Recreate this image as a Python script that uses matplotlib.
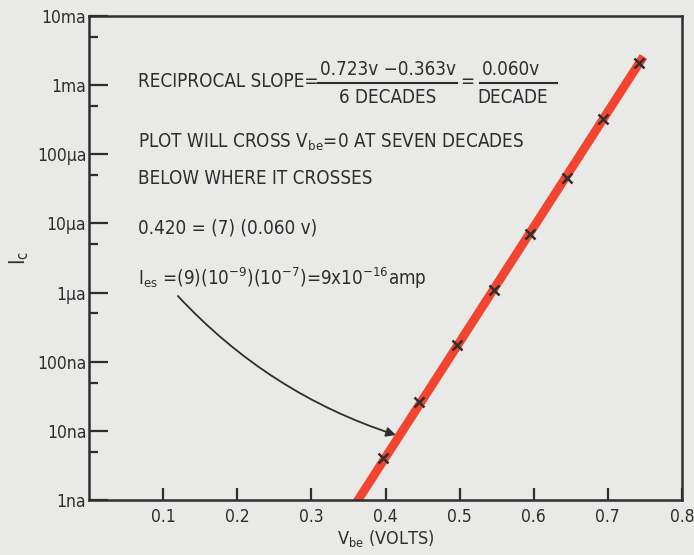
import numpy as np
import matplotlib
matplotlib.use("Agg")
from matplotlib import pyplot as plt

# measured points (V_be in volts, I_c in amps)
vbe_points = [0.397, 0.445, 0.497, 0.547, 0.595, 0.645, 0.694, 0.742]
ic_points = [4.1e-9, 2.6e-8, 1.75e-7, 1.1e-6, 7.1e-6, 4.6e-5, 3.2e-4, 2.1e-3]

# straight-line fit drawn through the points
fit_vbe = [0.359, 0.748]
fit_ic = [8.6e-10, 2.6e-3]

x_ticks = [0.1, 0.2, 0.3, 0.4, 0.5, 0.6, 0.7, 0.8]
x_labels = ["0.1", "0.2", "0.3", "0.4", "0.5", "0.6", "0.7", "0.8"]
y_ticks = [1e-9, 1e-8, 1e-7, 1e-6, 1e-5, 1e-4, 1e-3, 1e-2]
y_labels = ["1na", "10na", "100na", "1\u03bca", "10\u03bca", "100\u03bca", "1ma", "10ma"]
y_minor = [5e-9, 5e-8, 5e-7, 5e-6, 5e-5, 5e-4, 5e-3]

plt.rcParams['font.family'] = ['DejaVu Sans']
plt.rcParams['font.stretch'] = 'condensed'
ink = "#2e2e2e"
bg = "#e9e9e7"

fig = plt.figure(figsize=(6.94, 5.55), dpi=100, facecolor=bg)
ax = fig.add_axes([89 / 694, 55 / 555, 593 / 694, 484 / 555])
ax.set_facecolor(bg)

ax.plot(fit_vbe, fit_ic, color="#f2442e", lw=6.3, solid_capstyle="butt", zorder=2)
ax.plot(vbe_points, ic_points, "x", color=ink, ms=7, mew=1.8, zorder=3)

ax.set_yscale("log")
ax.set_xlim(0, 0.8)
ax.set_ylim(1e-9, 1e-2)
ax.set_xticks(x_ticks, x_labels)
ax.set_yticks(y_ticks, y_labels)
ax.set_yticks(y_minor, minor=True)
ax.yaxis.set_minor_formatter(matplotlib.ticker.NullFormatter())
ax.tick_params(axis="y", which="major", direction="in", length=14, width=1.6,
               colors=ink, labelsize=12.5, pad=2)
ax.tick_params(axis="y", which="minor", direction="in", length=6.5, width=1.6, colors=ink)
ax.tick_params(axis="x", which="major", direction="in", length=9, width=1.6,
               colors=ink, labelsize=12.5, pad=6)
ax.tick_params(axis="x", which="minor", bottom=False)
for s in ax.spines.values():
    s.set_linewidth(1.8)
    s.set_color(ink)

ax.set_xlabel(r"$\mathregular{V_{be}}$ (VOLTS)", fontsize=13, color=ink, labelpad=1)
ax.set_ylabel(r"$\mathregular{I_c}$", fontsize=15, color=ink, labelpad=4)

# annotations, positions in axes fraction
tk = dict(transform=ax.transAxes, fontsize=13.5, color=ink, va="center")
ax.text(0.0826, 0.864, "RECIPROCAL SLOPE=", ha="left", **tk)
ax.text(0.504, 0.890, "0.723v \u22120.363v", ha="center", **tk)
ax.text(0.504, 0.831, "6 DECADES", ha="center", **tk)
ax.plot([0.386, 0.621], [0.862, 0.862], color=ink, lw=1.5, transform=ax.transAxes, clip_on=False)
ax.text(0.638, 0.864, "=", ha="center", **tk)
ax.text(0.712, 0.890, "0.060v", ha="center", **tk)
ax.text(0.715, 0.831, "DECADE", ha="center", **tk)
ax.plot([0.659, 0.789], [0.862, 0.862], color=ink, lw=1.5, transform=ax.transAxes, clip_on=False)

ax.text(0.0826, 0.738, r"PLOT WILL CROSS $\mathregular{V_{be}}$=0 AT SEVEN DECADES", ha="left", **tk)
ax.text(0.0826, 0.665, "BELOW WHERE IT CROSSES", ha="left", **tk)
ax.text(0.0826, 0.562, "0.420 = (7) (0.060 v)", ha="left", **tk)
ax.text(0.0826, 0.459,
        r"$\mathregular{I_{es}}$ =(9)(10$^{\mathregular{-9}}$)(10$^{\mathregular{-7}}$)=9x10$^{\mathregular{-16}}$amp",
        ha="left", **tk)

ax.annotate("", xy=(0.414, 10 ** -8.06), xytext=(0.120, 10 ** -6.05),
            arrowprops=dict(arrowstyle="-|>", color=ink, lw=1.3, shrinkA=0, shrinkB=0,
                            connectionstyle="arc3,rad=0.13", mutation_scale=14))

plt.savefig("out.png", dpi=100, facecolor=bg)
plt.close()
